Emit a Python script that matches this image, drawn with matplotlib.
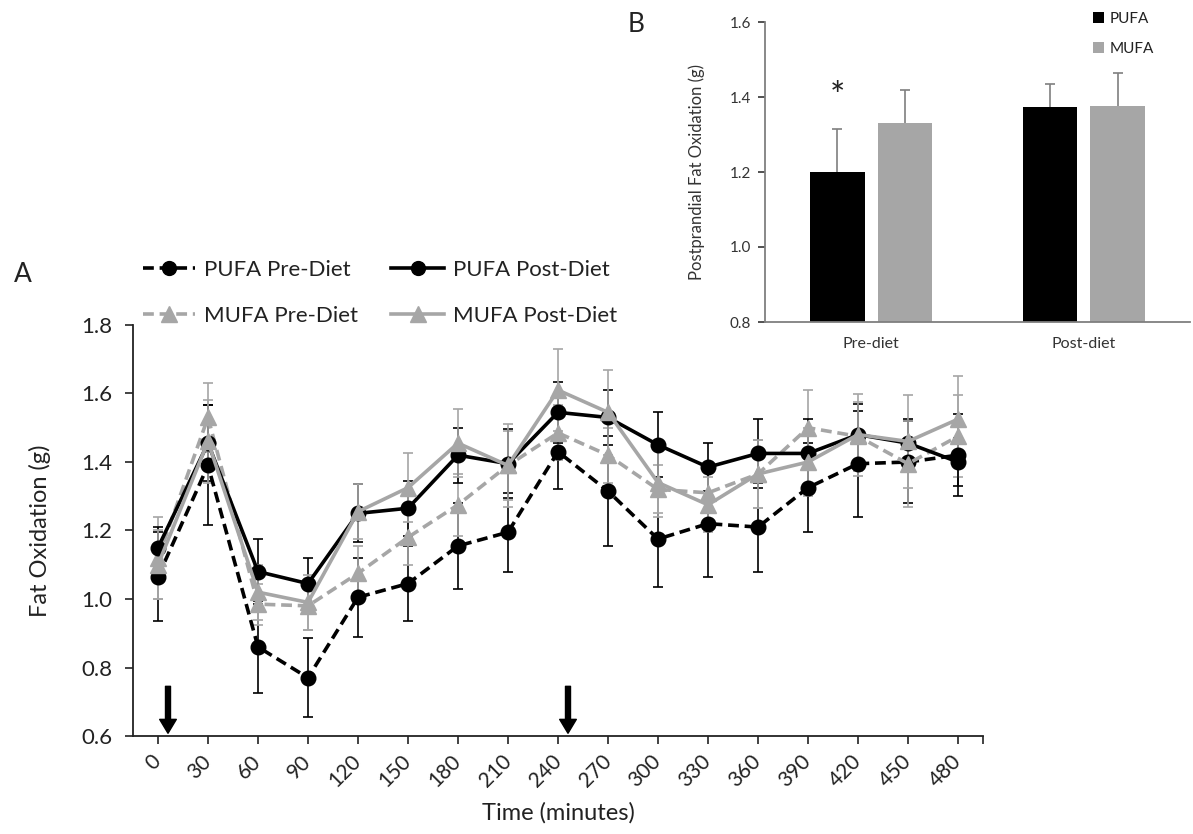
import numpy as np
import matplotlib
matplotlib.use("Agg")
import matplotlib.pyplot as plt

plt.rcParams['font.family'] = ['Lato', 'DejaVu Sans']

# ---------------- data (panel A) ----------------
times = ['0', '30', '60', '90', '120', '150', '180', '210', '240', '270',
         '300', '330', '360', '390', '420', '450', '480']
pufa_pre = [1.065, 1.39, 0.86, 0.77, 1.005, 1.045, 1.155, 1.195, 1.43, 1.315,
            1.175, 1.22, 1.21, 1.325, 1.395, 1.40, 1.42]
pufa_pre_err = [0.13, 0.175, 0.135, 0.115, 0.115, 0.11, 0.125, 0.115, 0.11, 0.16,
                0.14, 0.155, 0.13, 0.13, 0.155, 0.12, 0.12]
pufa_post = [1.15, 1.455, 1.08, 1.045, 1.25, 1.265, 1.42, 1.395, 1.545, 1.53,
             1.45, 1.385, 1.425, 1.425, 1.48, 1.455, 1.40]
pufa_post_err = [0.06, 0.11, 0.095, 0.075, 0.085, 0.08, 0.08, 0.1, 0.09, 0.08,
                 0.095, 0.07, 0.1, 0.1, 0.09, 0.07, 0.07]
mufa_pre = [1.12, 1.53, 0.985, 0.98, 1.075, 1.18, 1.275, 1.39, 1.485, 1.42,
            1.32, 1.31, 1.365, 1.50, 1.475, 1.395, 1.475]
mufa_pre_err = [0.12, 0.1, 0.06, 0.07, 0.08, 0.08, 0.09, 0.1, 0.08, 0.08,
                0.07, 0.06, 0.1, 0.11, 0.1, 0.125, 0.12]
mufa_post = [1.10, 1.46, 1.02, 0.99, 1.255, 1.325, 1.455, 1.39, 1.61, 1.545,
             1.34, 1.275, 1.365, 1.40, 1.48, 1.46, 1.525]
mufa_post_err = [0.1, 0.12, 0.08, 0.08, 0.08, 0.1, 0.1, 0.12, 0.12, 0.125,
                 0.1, 0.08, 0.1, 0.1, 0.12, 0.135, 0.125]
meal_times = ['0', '240']

# ---------------- data (panel B) ----------------
phases = ['Pre-diet', 'Post-diet']
bar_pufa = [1.200, 1.373]
bar_pufa_err = [0.115, 0.062]
bar_mufa = [1.331, 1.376]
bar_mufa_err = [0.088, 0.088]

BLACK = '#000000'
GRAY = '#a6a6a6'
TXT = '#222222'
W, H = 1193, 834

fig = plt.figure(figsize=(W / 100, H / 100), dpi=100)

# ---------------- Panel A ----------------
axA = fig.add_axes([133 / W, 1 - 736 / H, 850 / W, 411 / H])
x = np.arange(len(times))

series = [
    (pufa_pre, pufa_pre_err, BLACK, (0, (3, 1.6)), 'o', 'PUFA Pre-Diet'),
    (mufa_pre, mufa_pre_err, GRAY, (0, (3, 1.6)), '^', 'MUFA Pre-Diet'),
    (pufa_post, pufa_post_err, BLACK, '-', 'o', 'PUFA Post-Diet'),
    (mufa_post, mufa_post_err, GRAY, '-', '^', 'MUFA Post-Diet'),
]
handles = {}
for vals, err, col, ls, mk, lab in series:
    axA.errorbar(x, vals, yerr=err, fmt='none', ecolor=col, elinewidth=1.2,
                 capsize=3.5, capthick=1.2, zorder=2)
    ln, = axA.plot(x, vals, color=col, linestyle=ls, linewidth=2.6,
                   marker=mk, markersize=10.5 if mk == 'o' else 11.5,
                   markerfacecolor=col, markeredgecolor=col, zorder=3, label=lab)
    handles[lab] = ln

axA.set_xlim(-0.5, len(times) - 0.5)
axA.set_ylim(0.6, 1.8)
yt = np.arange(0.6, 1.81, 0.2)
axA.set_yticks(yt)
axA.set_yticklabels([f'{v:.1f}' for v in yt])
axA.set_xticks(x)
axA.set_xticklabels(times, rotation=45, ha='right', va='center',
                    rotation_mode='anchor')
axA.set_xticks([len(times) - 0.5], minor=True)
axA.tick_params(axis='x', which='both', pad=10, labelsize=15, length=6,
                width=1.2, colors=TXT)
axA.tick_params(axis='y', labelsize=16, length=6, width=1.2, pad=9, colors=TXT)
for s in ['top', 'right']:
    axA.spines[s].set_visible(False)
for s in ['left', 'bottom']:
    axA.spines[s].set_linewidth(1.3)
    axA.spines[s].set_color(TXT)

axA.set_ylabel('Fat Oxidation (g)', fontsize=17, color=TXT)
axA.yaxis.set_label_coords(-0.097, 0.5)
axA.set_xlabel('Time (minutes)', fontsize=17, color=TXT)
axA.xaxis.set_label_coords(0.5, -0.16)

# meal arrows
for mt in meal_times:
    xi = times.index(mt) + 0.2
    axA.annotate('', xy=(xi, 0.608), xytext=(xi, 0.745),
                 arrowprops=dict(width=3.6, headwidth=12, headlength=10,
                                 facecolor=BLACK, edgecolor=BLACK),
                 annotation_clip=False)

order = ['PUFA Pre-Diet', 'MUFA Pre-Diet', 'PUFA Post-Diet', 'MUFA Post-Diet']
leg = fig.legend([handles[k] for k in order], order, ncol=2,
                 loc='upper left', bbox_to_anchor=(143 / W, 1 - 260 / H),
                 frameon=False, fontsize=16, handlelength=2.35,
                 handletextpad=0.4, columnspacing=1.5, labelspacing=1.15,
                 borderpad=0, borderaxespad=0, markerscale=0.95)
for t in leg.get_texts():
    t.set_color(TXT)

fig.text(23 / W, 1 - 274 / H, 'A', fontsize=19, va='center', ha='center',
         color=TXT)

# ---------------- Panel B ----------------
axB = fig.add_axes([765 / W, 1 - 322 / H, 425 / W, 300 / H])
xb = np.arange(len(phases))
bw = 0.257
off = 0.159
axB.bar(xb - off, bar_pufa, width=bw, color=BLACK, label='PUFA', zorder=2)
axB.bar(xb + off, bar_mufa, width=bw, color=GRAY, label='MUFA', zorder=2)
for xs, vals, err in [(xb - off, bar_pufa, bar_pufa_err),
                      (xb + off, bar_mufa, bar_mufa_err)]:
    eb = axB.errorbar(xs, vals, yerr=[np.zeros(2), err], fmt='none',
                      ecolor='#7f7f7f', elinewidth=1.2, capsize=3.5,
                      capthick=1.2, zorder=1)
    eb[1][0].set_visible(False)
axB.text(xb[0] - off, 1.372, '*', ha='center', va='baseline',
         fontsize=26, color=TXT)
axB.set_xlim(-0.5, 1.5)
axB.set_ylim(0.8, 1.6)
axB.set_yticks([0.8, 1.0, 1.2, 1.4, 1.6])
axB.set_yticklabels(['0.8', '1.0', '1.2', '1.4', '1.6'])
axB.set_xticks(xb)
axB.set_xticklabels(phases)
axB.tick_params(axis='x', length=0, pad=11, labelsize=11.5, colors='#333333')
axB.tick_params(axis='y', length=5, width=1.2, pad=5, labelsize=11,
                colors='#333333')
for s in ['top', 'right']:
    axB.spines[s].set_visible(False)
for s in ['left', 'bottom']:
    axB.spines[s].set_color('#7f7f7f')
    axB.spines[s].set_linewidth(1.3)
axB.set_ylabel('Postprandial Fat Oxidation (g)', fontsize=12, color='#333333')
axB.yaxis.set_label_coords(-0.141, 0.5)
legB = axB.legend(loc='upper left', bbox_to_anchor=(1093 / W, 1 - 12 / H),
                  bbox_transform=fig.transFigure, frameon=False, fontsize=11,
                  handlelength=0.72, handleheight=0.72, handletextpad=0.35,
                  labelspacing=1.05, borderpad=0, borderaxespad=0)
for t in legB.get_texts():
    t.set_color(TXT)
fig.text(636 / W, 1 - 24 / H, 'B', fontsize=19, va='center', ha='center',
         color=TXT)

fig.savefig('out.png', dpi=100)
